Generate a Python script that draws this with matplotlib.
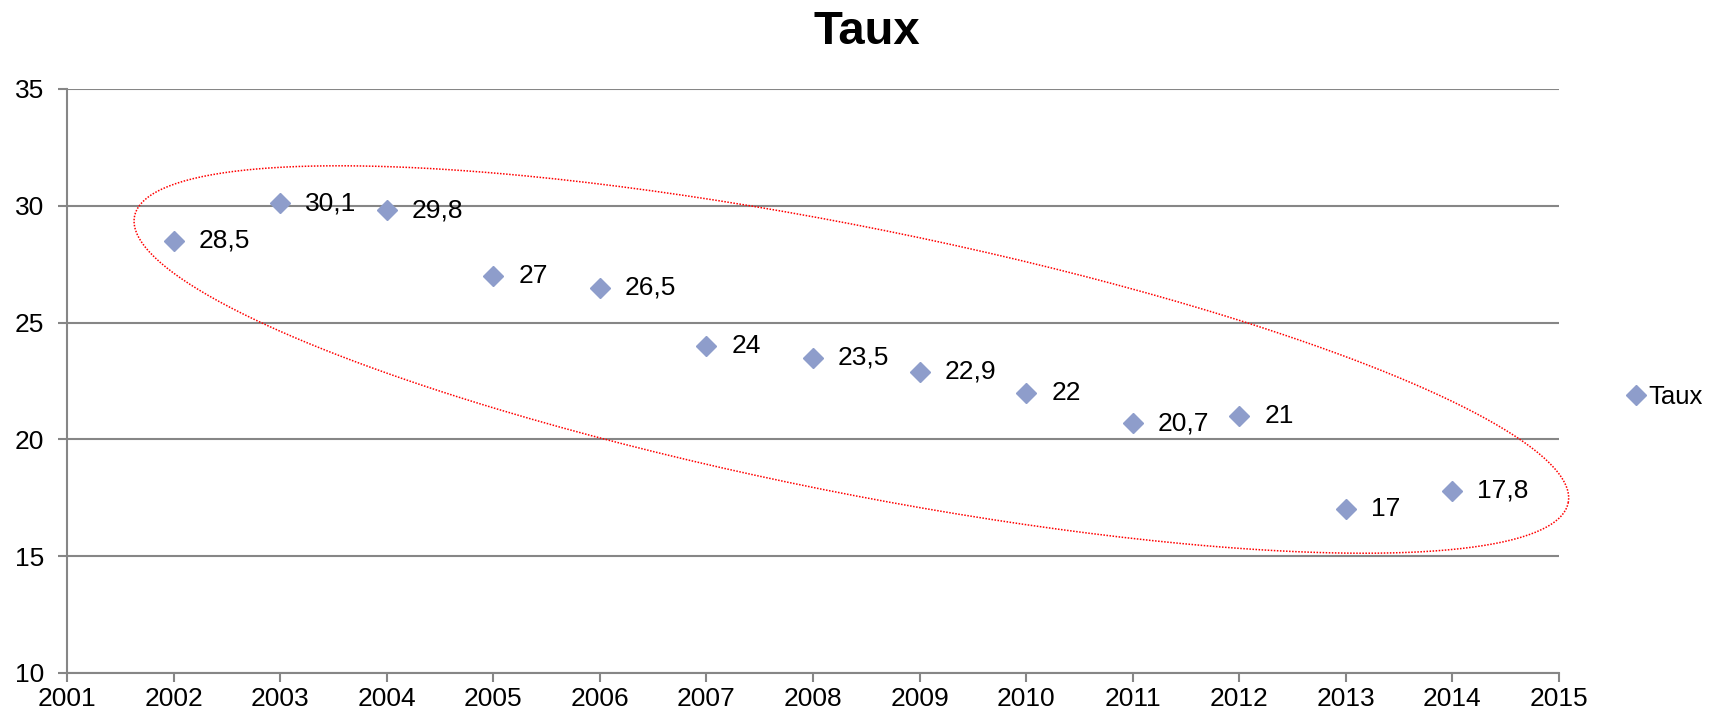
import numpy as np
import matplotlib.pyplot as plt

plt.rcParams['font.family'] = ['Liberation Sans', 'DejaVu Sans']

# data
years = [2002, 2003, 2004, 2005, 2006, 2007, 2008, 2009, 2010, 2011, 2012, 2013, 2014]
taux = [28.5, 30.1, 29.8, 27, 26.5, 24, 23.5, 22.9, 22, 20.7, 21, 17, 17.8]
x_ticks = list(range(2001, 2016))
y_ticks = [10, 15, 20, 25, 30, 35]

# ellipse annotation (centre in data units, semi-axes in pixels, angle in degrees)
ell_center = (2008.36, 23.42)
ell_axes_px = (731, 133)
ell_angle = -11.3

grey = '#868686'
mcol = '#8E9DCB'

fig = plt.figure(figsize=(17.22, 7.18), dpi=100)
ax = fig.add_axes([67/1722, 45/718, 1492/1722, 584/718])

ax.plot(years, taux, linestyle='none', marker='D', markersize=10,
        color=mcol, label='Taux', zorder=3)
for x, y in zip(years, taux):
    ax.annotate(('%g' % y).replace('.', ','), (x, y), xytext=(18, 0),
                textcoords='offset points', va='center', ha='left', fontsize=19)

ax.set_xlim(2001, 2015)
ax.set_ylim(10, 35)
ax.set_xticks(x_ticks)
ax.set_yticks(y_ticks)
ax.tick_params(labelsize=19, color=grey, width=1.5, length=6.5, direction='out')
ax.tick_params(axis='y', pad=10)
ax.tick_params(axis='x', pad=3.5)
ax.grid(axis='y', color=grey, linewidth=1.5)
ax.set_axisbelow(True)
for s in ['top', 'right']:
    ax.spines[s].set_visible(False)
for s in ['left', 'bottom']:
    ax.spines[s].set_color(grey)
    ax.spines[s].set_linewidth(1.5)

# dotted red ellipse
px_x = 1492 / 14.0
px_y = 584 / 25.0
t = np.linspace(0, 2 * np.pi, 400)
th = np.deg2rad(ell_angle)
a, b = ell_axes_px
dx = a * np.cos(t) * np.cos(th) - b * np.sin(t) * np.sin(th)
dy = a * np.cos(t) * np.sin(th) + b * np.sin(t) * np.cos(th)
ax.plot(ell_center[0] + dx / px_x, ell_center[1] + dy / px_y,
        color='red', linestyle=(0, (1, 1)), linewidth=1.1, clip_on=False)

fig.text(867/1722, 1 - 44/718, 'Taux', fontsize=34, fontweight='bold',
         ha='center', va='baseline')

fig.legend(loc='center left', bbox_to_anchor=(1628/1722, 1 - 397/718),
           frameon=False, fontsize=18.5, handlelength=0.6, handletextpad=0.2,
           borderaxespad=0, borderpad=0)

fig.savefig('out.png', dpi=100)
